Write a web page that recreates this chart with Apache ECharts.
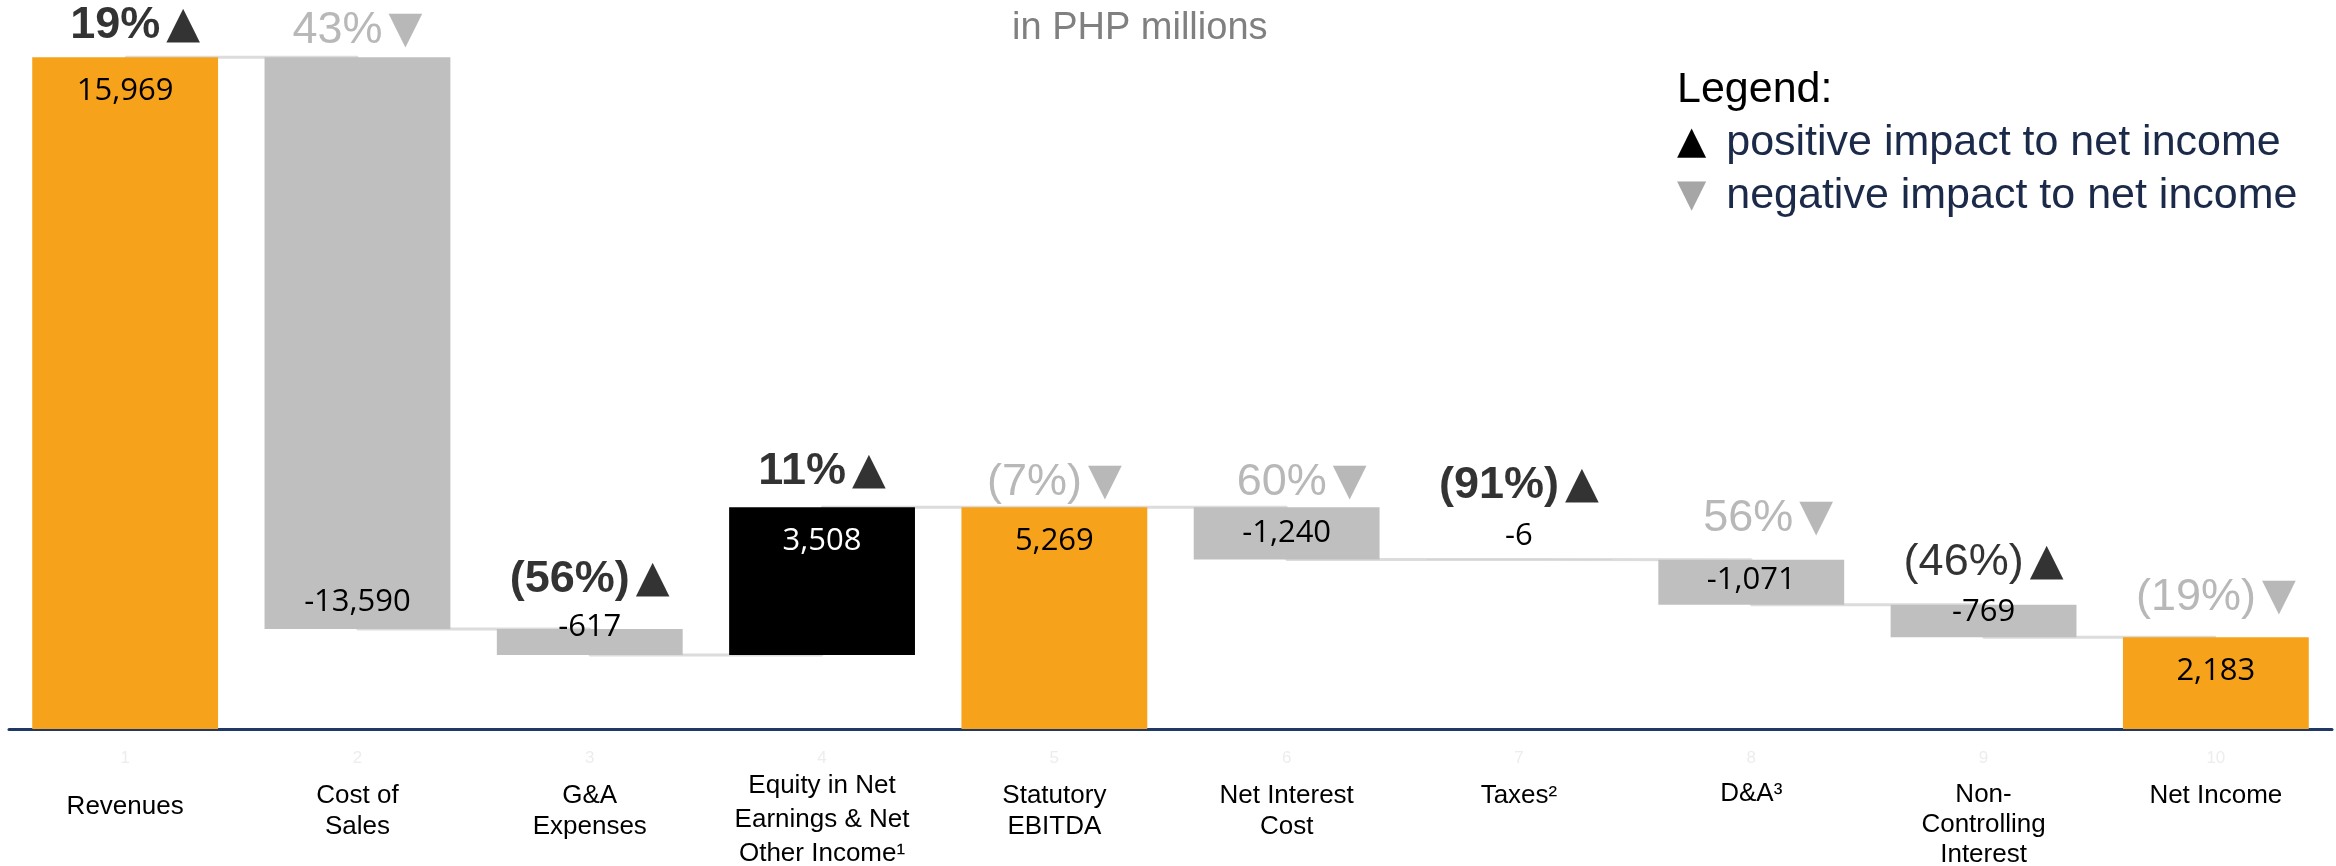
<!DOCTYPE html>
<html>
<head>
<meta charset="utf-8">
<style>
  html, body { margin: 0; padding: 0; background: #fff; }
  #chart { width: 2336px; height: 866px; }
</style>
<script src="https://cdn.jsdelivr.net/npm/echarts@6/dist/echarts.min.js"></script>
</head>
<body>
<div id="chart"></div>
<script>
// waterfall: revenues down to net income, in PHP millions
const categories = [
  'Revenues', 'Cost of\nSales', 'G&A\nExpenses', 'Equity in Net\nEarnings & Net\nOther Income¹',
  'Statutory\nEBITDA', 'Net Interest\nCost', 'Taxes²', 'D&A³', 'Non-\nControlling\nInterest', 'Net Income'
];
const tickNumbers = ['1', '2', '3', '4', '5', '6', '7', '8', '9', '10'];
const amounts = [15969, -13590, -617, 3508, 5269, -1240, -6, -1071, -769, 2183];
const isTotal = [true, false, false, false, true, false, false, false, false, true];
const changeLabels = ['19%', '43%', '(56%)', '11%', '(7%)', '60%', '(91%)', '56%', '(46%)', '(19%)'];
const impact = ['up', 'down', 'up', 'up', 'down', 'down', 'up', 'down', 'up', 'down'];

// styling per bar
const ORANGE = '#F7A21B', GREY = '#BFBFBF', BLACK = '#000000';
const barColors = [ORANGE, GREY, GREY, BLACK, ORANGE, GREY, GREY, GREY, GREY, ORANGE];
const valueColors = ['#000', '#000', '#000', '#fff', '#000', '#000', '#000', '#000', '#000', '#000'];
const changeBold = [true, false, true, true, false, false, true, false, false, false];
// label nudges (px)
const valuePos = ['insideTop', 'insideBottom', 'insideTop', 'insideTop', 'insideTop', 'insideTop', 'insideTop', 'insideTop', 'insideTop', 'insideTop'];
const valueDy = [19, -12, -17, 19, 19, 11, -38, 5, -8, 19];
const changeDx = [10, 0, 0, 0, 0, 15, 0, 17, 0, 0];
const changeDy = [-32, -27, -49, -36, -25, -25, -74, -41, -42, -40];
const catPadTop = [28, 17, 17, 6, 17, 17, 17, 15, 17, 17];
const catLineH = [32, 31, 31, 34, 31, 31, 32, 32, 30, 32];

// running totals
let level = 0;
const base = [], body = [], tops = [], levels = [];
amounts.forEach((v, i) => {
  if (isTotal[i]) {
    base.push(0); body.push(v); level = v;
  } else {
    const end = level + v;
    base.push(Math.min(level, end)); body.push(Math.abs(v)); level = end;
  }
  tops.push(base[i] + body[i]);
  levels.push(level);
});

const fmt = v => v.toLocaleString('en-US');
const FONT = 'Liberation Sans, Arial, sans-serif';
const TRI = 'DejaVu Sans, sans-serif';

const chart = echarts.init(document.getElementById('chart'));

chart.setOption({
  animation: false,
  title: [
    {
      text: 'in PHP millions',
      left: 1012, top: 8, padding: 0,
      textStyle: { fontFamily: FONT, fontSize: 38, fontWeight: 'normal', color: '#808080', lineHeight: 42 }
    },
    {
      text: '{h|Legend:}\n{tu|▲}{t|positive impact to net income}\n{td|▼}{t|negative impact to net income}',
      left: 1677, top: 64, padding: 0,
      textStyle: {
        fontFamily: FONT, fontSize: 43, fontWeight: 'normal', lineHeight: 53,
        rich: {
          h: { fontFamily: FONT, fontSize: 43, color: '#000', lineHeight: 53 },
          t: { fontFamily: FONT, fontSize: 43, color: '#1C2A4A', lineHeight: 53 },
          tu: { fontFamily: TRI, fontSize: 38, color: '#000', padding: [0, 20, 0, 0] },
          td: { fontFamily: TRI, fontSize: 38, color: '#A6A6A6', padding: [0, 20, 0, 0] }
        }
      }
    }
  ],
  grid: { left: 9, right: 4, top: 56, bottom: 137, outerBoundsMode: 'none' },
  xAxis: [
    {
      type: 'category',
      data: categories.map((c, i) => ({
        value: c,
        textStyle: { padding: [catPadTop[i], 0, 0, 0], lineHeight: catLineH[i] }
      })),
      position: 'bottom',
      axisLine: { show: true, lineStyle: { color: '#1F3864', width: 3 } },
      axisTick: { show: false },
      axisLabel: {
        interval: 0, margin: 34, verticalAlign: 'top',
        fontFamily: FONT, fontSize: 26, color: '#000', lineHeight: 32
      }
    },
    {
      type: 'category',
      data: tickNumbers,
      position: 'bottom',
      axisLine: { show: false },
      axisTick: { show: false },
      axisLabel: {
        interval: 0, margin: 19, verticalAlign: 'top',
        fontFamily: FONT, fontSize: 17, color: '#EDEDED', lineHeight: 20
      }
    }
  ],
  yAxis: { type: 'value', min: 0, max: 16000, show: false },
  series: [
    {
      name: 'connector',
      type: 'line',
      step: 'end',
      data: levels,
      symbol: 'none',
      silent: true,
      z: 1,
      lineStyle: { color: '#DCDCDC', width: 3 }
    },
    {
      name: 'base',
      type: 'bar',
      stack: 'wf',
      barCategoryGap: '20%',
      silent: true,
      z: 2,
      itemStyle: { color: 'rgba(0,0,0,0)' },
      data: base
    },
    {
      name: 'amount',
      type: 'bar',
      stack: 'wf',
      barCategoryGap: '20%',
      z: 2,
      data: body.map((v, i) => ({
        value: v,
        itemStyle: { color: barColors[i] },
        label: {
          show: true,
          position: valuePos[i],
          distance: 0,
          offset: [0, valueDy[i]],
          formatter: () => fmt(amounts[i]),
          fontFamily: 'Open Sans, Noto Sans, sans-serif',
          fontSize: 31,
          lineHeight: 30,
          color: valueColors[i]
        }
      }))
    },
    {
      name: 'change',
      type: 'scatter',
      symbolSize: 0,
      silent: true,
      z: 3,
      data: tops.map((v, i) => ({
        value: v,
        label: {
          show: true,
          position: 'inside',
          offset: [changeDx[i], changeDy[i]],
          formatter: () => {
            const key = impact[i] === 'down' ? 'g' : (changeBold[i] ? 'b' : 'n');
            const tri = impact[i] === 'up' ? '{tu|▲}' : '{td|▼}';
            return '{' + key + '|' + changeLabels[i] + '}' + tri;
          },
          rich: {
            b: { fontFamily: FONT, fontSize: 45, fontWeight: 'bold', color: '#000' },
            n: { fontFamily: FONT, fontSize: 45, color: '#000' },
            g: { fontFamily: FONT, fontSize: 45, color: '#A6A6A6' },
            tu: { fontFamily: TRI, fontSize: 44, color: '#000', padding: [0, 0, 0, 6] },
            td: { fontFamily: TRI, fontSize: 44, color: '#A6A6A6', padding: [0, 0, 0, 6] }
          }
        }
      }))
    }
  ]
});

window.addEventListener('resize', () => chart.resize());
</script>
</body>
</html>
